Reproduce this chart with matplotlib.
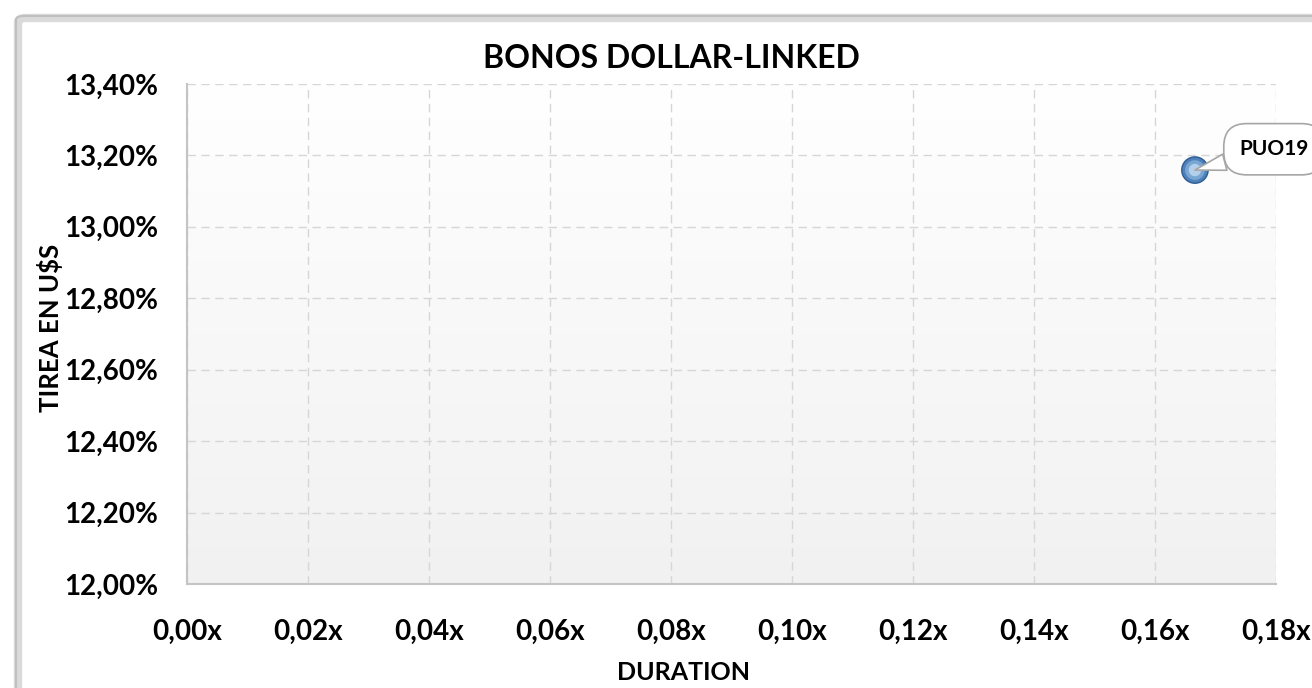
import matplotlib
matplotlib.use("Agg")
import matplotlib.pyplot as plt
import numpy as np
from matplotlib.patches import FancyBboxPatch
from matplotlib.ticker import FuncFormatter

# Data
bond_names = ["PUO19"]
duration = [0.1666]
tirea = [0.13159]

x_ticks = [0.00, 0.02, 0.04, 0.06, 0.08, 0.10, 0.12, 0.14, 0.16, 0.18]
y_ticks = [0.120, 0.122, 0.124, 0.126, 0.128, 0.130, 0.132, 0.134]

title = "BONOS DOLLAR-LINKED"
x_label = "DURATION"
y_label = "TIREA EN U$S"

plt.rcParams['font.family'] = ['Lato', 'DejaVu Sans']
plt.rcParams['font.weight'] = 'bold'

fig = plt.figure(figsize=(13.12, 6.88), dpi=100)
fig.patch.set_facecolor('white')

# outer frame with shadow
shadow = FancyBboxPatch((18 / 1312, -0.05), 1.2, 1 - 18 / 688 + 0.05,
                        boxstyle="round,pad=0,rounding_size=0.006",
                        transform=fig.transFigure, fc='none', ec='#dadada', lw=6, zorder=0)
fig.patches.append(shadow)
frame = FancyBboxPatch((16 / 1312, -0.05), 1.2, 1 - 16 / 688 + 0.05,
                       boxstyle="round,pad=0,rounding_size=0.006",
                       transform=fig.transFigure, fc='none', ec='#c0c0c0', lw=1.5, zorder=1)
fig.patches.append(frame)

ax = fig.add_axes([187 / 1312, 1 - 584 / 688, (1276 - 187) / 1312, (584 - 84) / 688])
ax.set_facecolor('none')

# gradient background
grad = np.linspace(1.0, 0.0, 256).reshape(-1, 1)
top = np.array([1.0, 1.0, 1.0])
bot = np.array([0.945, 0.945, 0.945])
img = top * grad[..., None] + bot * (1 - grad[..., None])
ax.imshow(img, extent=[0, 1, 0, 1], transform=ax.transAxes, aspect='auto', zorder=0)

ax.set_xlim(0, 0.18)
ax.set_ylim(0.120, 0.134)
ax.set_xticks(x_ticks)
ax.set_yticks(y_ticks)
ax.xaxis.set_major_formatter(FuncFormatter(lambda v, p: f"{v:.2f}".replace('.', ',') + "x"))
ax.yaxis.set_major_formatter(FuncFormatter(lambda v, p: f"{v*100:.2f}".replace('.', ',') + "%"))
ax.tick_params(axis='both', length=0, labelsize=20)
ax.tick_params(axis='y', pad=21)
ax.tick_params(axis='x', pad=25)

ax.grid(True, color='#d6d6d6', linestyle=(0, (6, 4)), linewidth=1.0, zorder=1)
ax.set_axisbelow(True)
for s in ['top', 'right']:
    ax.spines[s].set_visible(False)
for s in ['left', 'bottom']:
    ax.spines[s].set_color('#c4c4c4')
    ax.spines[s].set_linewidth(1.5)

# sphere-like markers
ax.scatter(duration, tirea, s=400, c='#2f5f94', edgecolors='none', zorder=5)
ax.scatter(duration, tirea, s=320, c='#4f82ba', edgecolors='none', zorder=6)
ax.scatter(duration, tirea, s=200, c='#7aa6d4', edgecolors='none', zorder=7)
ax.scatter(duration, tirea, s=80, c='#b3cfea', edgecolors='none', zorder=8)

for name, xv, yv in zip(bond_names, duration, tirea):
    ax.annotate(name, xy=(xv, yv), xytext=(57, 15), textcoords='offset points',
                ha='center', va='center', fontsize=15, fontweight='bold',
                bbox=dict(boxstyle='round,pad=0.75,rounding_size=1.1', fc='white', ec='#a6a6a6', lw=1.2),
                arrowprops=dict(arrowstyle='wedge,tail_width=0.8', fc='white', ec='#a6a6a6', lw=1.2,
                                shrinkA=0, shrinkB=0),
                zorder=10, annotation_clip=False)

fig.text(671 / 1312, 1 - 58 / 688, title, ha='center', va='center', fontsize=23, fontweight='bold')
fig.text(683 / 1312, 1 - 672 / 688, x_label, ha='center', va='center', fontsize=18, fontweight='bold')
fig.text(50 / 1312, 1 - 328 / 688, y_label, ha='center', va='center', fontsize=18.5, fontweight='bold',
         rotation=90)

fig.savefig("out.png", dpi=100)
